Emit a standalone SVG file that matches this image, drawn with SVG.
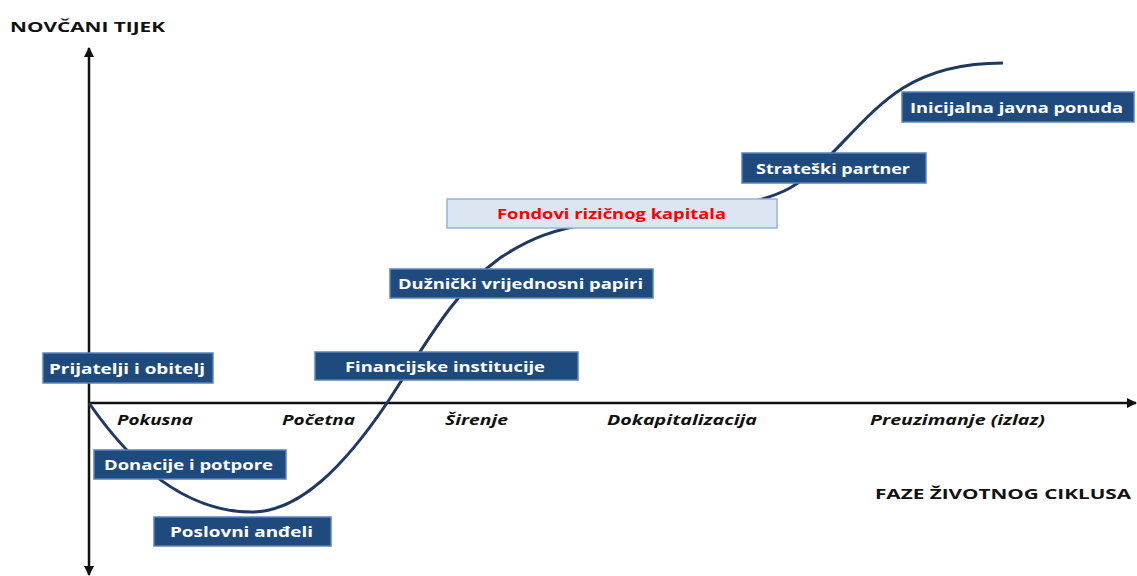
<svg xmlns="http://www.w3.org/2000/svg" width="1137" height="576" viewBox="0 0 1137 576">
<style>
.bx{fill:#1f4a7e;stroke:#5a84bd;stroke-width:1.5}
.bt{fill:#ffffff;font-family:"Open Sans",Lato,sans-serif;font-weight:bold;font-size:15px;text-anchor:middle}
.ph{fill:#111111;font-family:"Open Sans",Lato,sans-serif;font-weight:bold;font-style:italic;font-size:14px}
.ax{fill:#111111;font-family:"Open Sans",Lato,sans-serif;font-weight:bold;font-size:15px}
</style>
<defs>
<marker id="ah" viewBox="0 0 10 10" refX="9" refY="5" markerWidth="4" markerHeight="4" orient="auto" markerUnits="strokeWidth">
<path d="M0,0 L10,5 L0,10 z" fill="#111111"/>
</marker>
</defs>
<rect width="1137" height="576" fill="#ffffff"/>
<g id="axes">
<line x1="89" y1="403" x2="89" y2="48" stroke="#111111" stroke-width="2.5" marker-end="url(#ah)"/>
<line x1="89" y1="403" x2="89" y2="575" stroke="#111111" stroke-width="2.5" marker-end="url(#ah)"/>
<line x1="89" y1="403" x2="1136" y2="403" stroke="#111111" stroke-width="2.5" marker-end="url(#ah)"/>
</g>
<g id="connectors">
<path d="M89,403 C125,455 180,512 252,512 C300,512 345,465 387,403 C425,345 455,290 500,258 C530,238 555,229 590,224 C680,212 750,210 790,188 C830,165 860,115 903,88 C935,68 970,63 1003,63" fill="none" stroke="#1f3864" stroke-width="3"/>
</g>
<text class="ax" x="10" y="32" textLength="155" lengthAdjust="spacingAndGlyphs">NOVČANI TIJEK</text>
<text class="ax" x="875" y="499" textLength="256" lengthAdjust="spacingAndGlyphs">FAZE ŽIVOTNOG CIKLUSA</text>
<g id="phases">
<text class="ph" x="117" y="425" textLength="76" lengthAdjust="spacingAndGlyphs">Pokusna</text>
<text class="ph" x="282" y="425" textLength="73" lengthAdjust="spacingAndGlyphs">Početna</text>
<text class="ph" x="445" y="425" textLength="63" lengthAdjust="spacingAndGlyphs">Širenje</text>
<text class="ph" x="607" y="425" textLength="150" lengthAdjust="spacingAndGlyphs">Dokapitalizacija</text>
<text class="ph" x="870" y="425" textLength="175" lengthAdjust="spacingAndGlyphs">Preuzimanje (izlaz)</text>
</g>
<g id="n1"><rect class="bx" x="43" y="353" width="170" height="30"/><text class="bt" x="127" y="374" textLength="156" lengthAdjust="spacingAndGlyphs">Prijatelji i obitelj</text></g>
<g id="n2"><rect class="bx" x="94" y="450" width="192" height="29"/><text class="bt" x="188.5" y="470" textLength="169" lengthAdjust="spacingAndGlyphs">Donacije i potpore</text></g>
<g id="n3"><rect class="bx" x="154" y="517" width="177" height="29"/><text class="bt" x="241.5" y="537" textLength="143" lengthAdjust="spacingAndGlyphs">Poslovni anđeli</text></g>
<g id="n4"><rect class="bx" x="315" y="352" width="263" height="28"/><text class="bt" x="445" y="372" textLength="200" lengthAdjust="spacingAndGlyphs">Financijske institucije</text></g>
<g id="n5"><rect class="bx" x="390" y="269" width="263" height="29"/><text class="bt" x="520.5" y="289" textLength="245" lengthAdjust="spacingAndGlyphs">Dužnički vrijednosni papiri</text></g>
<g id="n6"><rect x="447" y="199" width="330" height="29" fill="#dce6f2" stroke="#95b3d7" stroke-width="1.5"/><text class="bt" x="611.5" y="219" style="fill:#ff0000" textLength="229" lengthAdjust="spacingAndGlyphs">Fondovi rizičnog kapitala</text></g>
<g id="n7"><rect class="bx" x="742" y="153" width="184" height="30"/><text class="bt" x="833" y="174" textLength="154" lengthAdjust="spacingAndGlyphs">Strateški partner</text></g>
<g id="n8"><rect class="bx" x="902" y="92" width="232" height="30"/><text class="bt" x="1016.5" y="113" textLength="213" lengthAdjust="spacingAndGlyphs">Inicijalna javna ponuda</text></g>
</svg>
